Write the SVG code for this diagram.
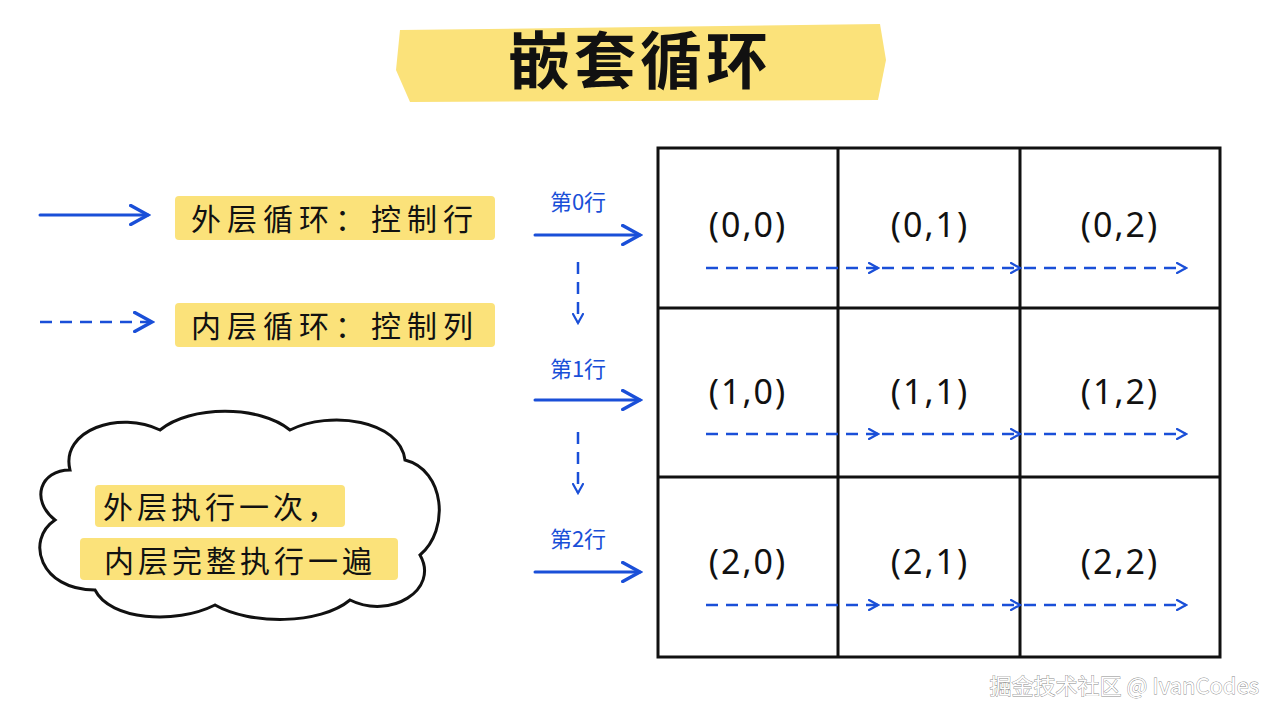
<svg xmlns="http://www.w3.org/2000/svg" width="1280" height="720" viewBox="0 0 1280 720">
<defs>
<marker id="ah" viewBox="0 0 12 12" refX="10" refY="6" markerWidth="12" markerHeight="12" markerUnits="userSpaceOnUse" orient="auto"><path d="M1,1 L10,6 L1,11" fill="none" stroke="#1a4fd8" stroke-width="2.2" stroke-linecap="round"/></marker>
<marker id="ahb" viewBox="0 0 14 14" refX="12" refY="7" markerWidth="22" markerHeight="22" markerUnits="userSpaceOnUse" orient="auto"><path d="M1,1 L12,7 L1,13" fill="none" stroke="#1a4fd8" stroke-width="2.2" stroke-linecap="round"/></marker>
</defs>
<style>
.t{font-family:"Noto Sans CJK SC","Noto Sans",sans-serif;fill:#111}
.c{font-family:"Noto Sans","Noto Sans CJK SC",sans-serif;font-size:34px;fill:#111;text-anchor:middle;letter-spacing:2px}
.s{stroke:#1a4fd8;stroke-width:3;fill:none;stroke-linecap:round}
.d{stroke:#1a4fd8;stroke-width:2.5;fill:none;stroke-dasharray:12 8}
.hl{fill:#fbe27a}
.lbl{font-family:"Noto Sans CJK SC",sans-serif;font-size:22px;fill:#1a4fd8;text-anchor:middle}
</style>
<rect width="1280" height="720" fill="#fff"/>
<g id="title">
<path class="hl" d="M400,30 L880,24 L886,60 L878,100 L410,102 L396,70 Z"/>
<text class="t" x="640" y="84" font-size="62" font-weight="bold" text-anchor="middle" letter-spacing="4">嵌套循环</text>
</g>
<g id="legend-outer">
<line class="s" x1="40" y1="215" x2="148" y2="215" marker-end="url(#ahb)"/>
<rect class="hl" x="175" y="196" width="320" height="44" rx="4"/>
<text class="t" x="335" y="230" font-size="30" text-anchor="middle" letter-spacing="6">外层循环：控制行</text>
</g>
<g id="legend-inner">
<line class="d" x1="40" y1="322" x2="152" y2="322" marker-end="url(#ahb)"/>
<rect class="hl" x="175" y="303" width="320" height="44" rx="4"/>
<text class="t" x="335" y="337" font-size="30" text-anchor="middle" letter-spacing="6">内层循环：控制列</text>
</g>
<g id="cloud">
<path d="M70,470 C60,430 120,410 160,430 C190,405 260,405 290,430 C330,410 400,420 405,460 C445,470 450,530 420,555 C440,590 390,620 350,600 C320,625 250,625 215,605 C175,625 110,620 95,590 C40,590 25,540 55,520 C30,500 40,470 70,470 Z" fill="#fff" stroke="#111" stroke-width="3"/>
<rect class="hl" x="95" y="485" width="250" height="42" rx="4"/>
<rect class="hl" x="80" y="538" width="318" height="42" rx="4"/>
<text class="t" x="222" y="518" font-size="30" text-anchor="middle" letter-spacing="4">外层执行一次，</text>
<text class="t" x="240" y="572" font-size="30" text-anchor="middle" letter-spacing="4">内层完整执行一遍</text>
</g>
<g id="grid" fill="none" stroke="#111" stroke-width="3">
<rect x="658" y="148" width="562" height="509"/>
<line x1="838" y1="148" x2="838" y2="657"/>
<line x1="1020" y1="148" x2="1020" y2="657"/>
<line x1="658" y1="308" x2="1220" y2="308"/>
<line x1="658" y1="477" x2="1220" y2="477"/>
</g>
<g id="cells">
<text class="c" x="748" y="237">(0,0)</text><text class="c" x="930" y="237">(0,1)</text><text class="c" x="1120" y="237">(0,2)</text>
<text class="c" x="748" y="404">(1,0)</text><text class="c" x="930" y="404">(1,1)</text><text class="c" x="1120" y="404">(1,2)</text>
<text class="c" x="748" y="574">(2,0)</text><text class="c" x="930" y="574">(2,1)</text><text class="c" x="1120" y="574">(2,2)</text>
</g>
<g id="row-labels">
<text class="lbl" x="578" y="210">第0行</text>
<text class="lbl" x="578" y="377">第1行</text>
<text class="lbl" x="578" y="547">第2行</text>
</g>
<g id="connectors">
<line class="s" x1="535" y1="235" x2="640" y2="235" marker-end="url(#ahb)"/>
<line class="s" x1="535" y1="400" x2="640" y2="400" marker-end="url(#ahb)"/>
<line class="s" x1="535" y1="572" x2="640" y2="572" marker-end="url(#ahb)"/>
<line class="d" x1="578" y1="262" x2="578" y2="323" marker-end="url(#ah)"/>
<line class="d" x1="578" y1="432" x2="578" y2="493" marker-end="url(#ah)"/>
<line class="d" x1="706" y1="268" x2="878" y2="268" marker-end="url(#ah)"/>
<line class="d" x1="882" y1="268" x2="1020" y2="268" marker-end="url(#ah)"/>
<line class="d" x1="1024" y1="268" x2="1186" y2="268" marker-end="url(#ah)"/>
<line class="d" x1="706" y1="434" x2="878" y2="434" marker-end="url(#ah)"/>
<line class="d" x1="882" y1="434" x2="1020" y2="434" marker-end="url(#ah)"/>
<line class="d" x1="1024" y1="434" x2="1186" y2="434" marker-end="url(#ah)"/>
<line class="d" x1="706" y1="605" x2="878" y2="605" marker-end="url(#ah)"/>
<line class="d" x1="882" y1="605" x2="1020" y2="605" marker-end="url(#ah)"/>
<line class="d" x1="1024" y1="605" x2="1186" y2="605" marker-end="url(#ah)"/>
</g>
<text x="1259" y="694" font-family="Noto Sans CJK SC,sans-serif" font-size="22" fill="#fff" stroke="#888" stroke-width="0.8" paint-order="stroke" text-anchor="end">掘金技术社区 @ IvanCodes</text>
</svg>
